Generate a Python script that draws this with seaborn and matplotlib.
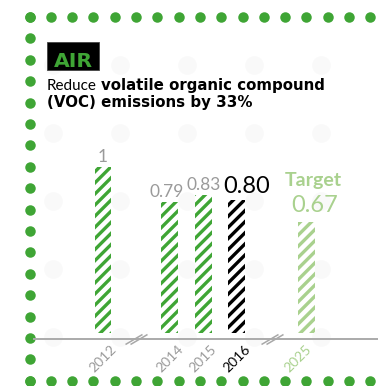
import numpy as np
import pandas as pd
import matplotlib
matplotlib.use("Agg")
import matplotlib.pyplot as plt
import seaborn as sns
from matplotlib.path import Path
from matplotlib.patches import Rectangle
from matplotlib.transforms import ScaledTranslation

# ---- data ----
years = ["2012", "2014", "2015", "2016", "2025"]
values = [1.00, 0.79, 0.83, 0.80, 0.67]
value_labels = ["1", "0.79", "0.83", "0.80", "0.67"]
x_pos = [0, 2, 3, 4, 6.1]      # timeline positions; the axis is broken twice
break_pos = [1.0, 5.05]
target_label = "Target"
section = "AIR"
headline_regular = "Reduce"
headline_bold_1 = "volatile organic compound"
headline_bold_2 = "(VOC) emissions by 33%"

# ---- style ----
GREEN = "#3FA535"
LIGHT = "#A9D18E"
GRAY = "#9A9A9A"
BLACK = "#000000"
bar_colors = [GREEN, GREEN, GREEN, BLACK, LIGHT]
label_colors = [GRAY, GRAY, GRAY, BLACK, LIGHT]
label_sizes = [12.5, 12.5, 12.5, 17, 17]
label_dx = [0, -3, 0, 10, 8]     # px
label_dy = [5, 5, 5, 7, 10]      # px
PT = 0.72                        # px -> pt at 100 dpi

sns.set_style("white")
plt.rcParams["hatch.linewidth"] = 2.4
plt.rcParams["font.family"] = ["Lato", "DejaVu Sans"]

W, H = 378, 386
fig = plt.figure(figsize=(W / 100, H / 100), dpi=100)

# background layer in pixel coordinates
bg = fig.add_axes([0, 0, 1, 1], zorder=0)
bg.set_xlim(0, W)
bg.set_ylim(H, 0)
bg.axis("off")

gx, gy = np.meshgrid(53 + 67 * np.arange(6), 65 + 68 * np.arange(5))
bg.scatter(gx.ravel(), gy.ravel(), s=180, color="#F9F9F9", linewidths=0)

dot_kw = dict(s=57, color=GREEN, linewidths=0, clip_on=False)
bg.scatter(29.5 + 21.3 * np.arange(17), np.full(17, 17.0), **dot_kw)
bg.scatter(np.full(18, 29.5), 17 + 21.4 * np.arange(18), **dot_kw)
bg.scatter(29.5 + 21.3 * np.arange(18), np.full(18, 381.0), **dot_kw)

# section tag
bg.add_patch(Rectangle((47, 42), 52, 28, facecolor="black", edgecolor="#444444", lw=0.6))
bg.text(73, 67, section, ha="center", va="baseline", color=GREEN,
        family="DejaVu Sans", weight="bold", fontsize=14.7)

# headline: regular + bold runs
t1 = bg.text(47, 90, headline_regular, ha="left", va="baseline", color="black",
             family="Lato", fontsize=11)
fig.canvas.draw()
w1 = t1.get_window_extent(fig.canvas.get_renderer()).width
bg.text(47 + w1 + 4, 90, headline_bold_1, ha="left", va="baseline", color="black",
        family="DejaVu Sans", weight="bold", fontsize=10.8)
bg.text(47, 107, headline_bold_2, ha="left", va="baseline", color="black",
        family="DejaVu Sans", weight="bold", fontsize=10.8)

# ---- bar chart ----
ax = fig.add_axes([34 / W, (H - 339) / H, (W - 34) / W, (339 - 130) / H], zorder=1)
ax.patch.set_alpha(0)

df = pd.DataFrame({"pos": x_pos, "value": values, "year": years})
sns.barplot(data=df, x="pos", y="value", hue="year",
            palette=dict(zip(years, bar_colors)), native_scale=True,
            dodge=False, legend=False, width=0.5, hatch="///", linewidth=0, ax=ax)

bars = sorted(ax.patches, key=lambda p: p.get_x())
for p, c in zip(bars, bar_colors):
    p.set_facecolor("white")
    p.set_edgecolor(c)
    p.set_linewidth(0)

ax.set_xlim(-2.066, 8.234)
ax.set_ylim(-0.036, 1.223)
ybase = ax.get_ylim()[0]

for s in ["left", "top", "right"]:
    ax.spines[s].set_visible(False)
ax.spines["bottom"].set_color("#AAAAAA")
ax.spines["bottom"].set_linewidth(1.4)
ax.set_yticks([])
ax.set_xlabel("")
ax.set_ylabel("")
ax.set_xticks(x_pos)
ax.set_xticklabels(years, rotation=45, ha="center", fontsize=10, family="Lato")
ax.tick_params(axis="x", length=0, pad=3)
for lab, c in zip(ax.get_xticklabels(), label_colors):
    lab.set_color(c)
last = ax.get_xticklabels()[-1]
last.set_transform(last.get_transform() + ScaledTranslation(-9 / 100, 0, fig.dpi_scale_trans))

# value labels
for xp, v, txt, c, fs, dx, dy in zip(x_pos, values, value_labels, label_colors,
                                      label_sizes, label_dx, label_dy):
    ax.annotate(txt, (xp, v), xytext=(dx * PT, dy * PT), textcoords="offset points",
                ha="center", va="baseline", color=c, fontsize=fs, family="Lato",
                annotation_clip=False)
ax.annotate(target_label, (x_pos[-1], values[-1]), xytext=(7 * PT, 36 * PT),
            textcoords="offset points", ha="center", va="baseline", color=LIGHT,
            fontsize=14, family="Lato", weight="bold", annotation_clip=False)

# axis-break marks
brk = Path([(-11, -5), (6, 5), (-6, -5), (11, 5)],
           [Path.MOVETO, Path.LINETO, Path.MOVETO, Path.LINETO])
ax.plot(break_pos, [ybase] * len(break_pos), ls="none", marker=brk,
        markersize=22 * PT, markerfacecolor="none", markeredgecolor="#A8A8A8",
        markeredgewidth=1.1, clip_on=False)

fig.savefig("out.png", dpi=100)
